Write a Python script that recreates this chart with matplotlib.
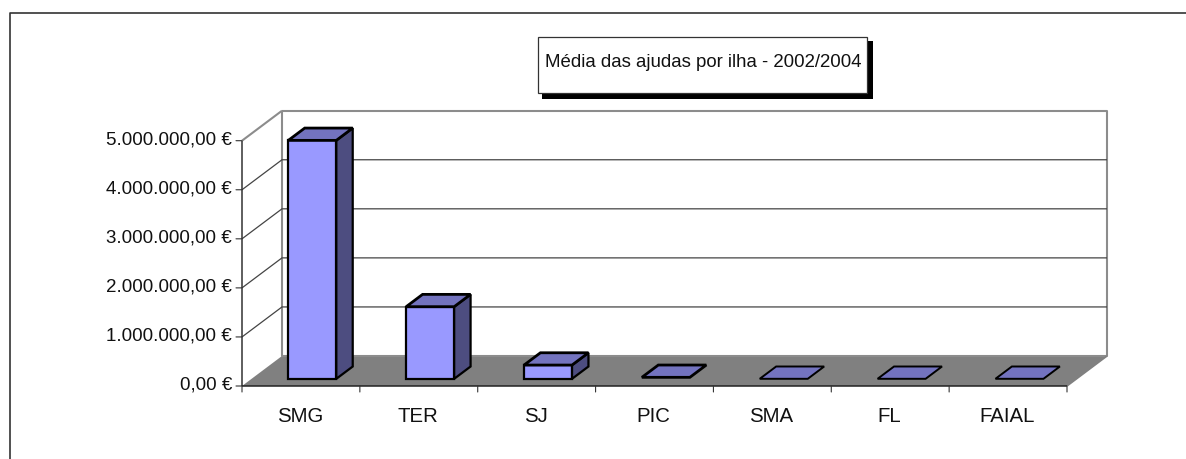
import matplotlib
matplotlib.use("Agg")
import matplotlib.pyplot as plt
from matplotlib.patches import Polygon, Rectangle

categories = ["SMG", "TER", "SJ", "PIC", "SMA", "FL", "FAIAL"]
values = [4860000, 1470000, 280000, 30000, 0, 0, 0]
y_ticks = [0, 1000000, 2000000, 3000000, 4000000, 5000000]
y_labels = ["0,00 €", "1.000.000,00 €", "2.000.000,00 €", "3.000.000,00 €", "4.000.000,00 €", "5.000.000,00 €"]
title = "Média das ajudas por ilha - 2002/2004"

W, H = 1186, 459
plt.rcParams["font.family"] = ["Liberation Sans", "DejaVu Sans"]

fig = plt.figure(figsize=(W / 100, H / 100), dpi=100)
fig.patch.set_facecolor("white")

# axes = front plane of the 3d box
ax = fig.add_axes([242 / W, 1 - 386 / H, 825 / W, 245.3 / H])
ax.set_xlim(0, 7)
ax.set_ylim(0, 5000000)
ax.axis("off")

# depth of the box in data units (40px across, 30px up)
depth_x = 40 / (825 / 7)
depth_y = 30 / (245.3 / 5000000)

def pt(x, y, d=0.0):
    return (x + d * depth_x, y + d * depth_y)

def poly(points, **kw):
    kw.setdefault("clip_on", False)
    ax.add_patch(Polygon(points, closed=True, **kw))

def line(points, color, lw, z=2):
    xs, ys = zip(*points)
    ax.plot(xs, ys, color=color, lw=lw, clip_on=False, zorder=z, solid_capstyle="butt")

# walls
poly([pt(0, 0, 1), pt(7, 0, 1), pt(7, 5000000, 1), pt(0, 5000000, 1)], facecolor="white", edgecolor="none", zorder=1)
poly([pt(0, 0), pt(7, 0), pt(7, 0, 1), pt(0, 0, 1)], facecolor="#808080", edgecolor="none", zorder=2)
line([pt(0, 5000000, 1), pt(7, 5000000, 1), pt(7, 0, 1), pt(0, 0, 1), pt(0, 5000000, 1)], "#8c8c8c", 1.5)
line([pt(7, 0), pt(7, 0, 1)], "#808080", 1.2)
line([pt(0, 5000000), pt(0, 5000000, 1)], "#8c8c8c", 1.5)

# gridlines
for v in y_ticks[1:-1]:
    line([pt(0, v), pt(0, v, 1), pt(7, v, 1)], "#444444", 0.9)

# axis lines and ticks
line([pt(0, 0), pt(0, 5000000)], "#333333", 1.1, 3)
line([pt(0, 0), pt(7, 0)], "#222222", 1.1, 3)
for v, lab in zip(y_ticks, y_labels):
    ax.annotate("", xy=pt(0, v), xytext=(-6, 0), textcoords="offset pixels",
                arrowprops=dict(arrowstyle="-", color="#333333", lw=0.8, shrinkA=0, shrinkB=0))
    ax.annotate(lab, xy=pt(0, v), xytext=(-10, 1), textcoords="offset pixels",
                ha="right", va="center", fontsize=13.5, color="#111111")
for i in range(8):
    ax.annotate("", xy=pt(i, 0), xytext=(0, -6), textcoords="offset pixels",
                arrowprops=dict(arrowstyle="-", color="#333333", lw=0.8, shrinkA=0, shrinkB=0))
for i, c in enumerate(categories):
    ax.annotate(c, xy=pt(i + 0.5, 0), xytext=(-1, -31), textcoords="offset pixels",
                ha="center", va="center", fontsize=14.7, color="#111111")

# bars
bar_w = 48 / (825 / 7)
shift = 1.8 / (825 / 7)
d0, d1 = 0.24, 0.65
for i, v in enumerate(values):
    x0 = i + 0.5 - bar_w / 2 + shift
    x1 = x0 + bar_w
    z = 5 + i
    ec = dict(edgecolor="black", linewidth=1.6, joinstyle="miter", zorder=z)
    if v > 100000:
        poly([pt(x0, 0, d0), pt(x1, 0, d0), pt(x1, v, d0), pt(x0, v, d0)], facecolor="#9999ff", **ec)
        poly([pt(x1, 0, d0), pt(x1, 0, d1), pt(x1, v, d1), pt(x1, v, d0)], facecolor="#4d4d80", **ec)
    poly([pt(x0, v, d0), pt(x1, v, d0), pt(x1, v, d1), pt(x0, v, d1)], facecolor="#7373bf",
         edgecolor="black", linewidth=2.0 if v else 1.4, joinstyle="miter", zorder=z)

# title box with shadow
fig.add_artist(Rectangle((542 / W, 1 - 99 / H), 331 / W, 58 / H, transform=fig.transFigure, facecolor="black", edgecolor="none"))
fig.add_artist(Rectangle((538 / W, 1 - 93 / H), 329 / W, 56 / H, transform=fig.transFigure, facecolor="white", edgecolor="#333333", linewidth=0.9))
fig.text(703 / W, 1 - 67 / H, title, ha="center", va="baseline", fontsize=13.4, color="#111111")

# chart frame
fig.add_artist(plt.Line2D([9.8 / W, 9.8 / W, 1], [0, 1 - 13 / H, 1 - 13 / H], color="#333333", lw=1.2, transform=fig.transFigure))

fig.savefig("out.png", dpi=100)
